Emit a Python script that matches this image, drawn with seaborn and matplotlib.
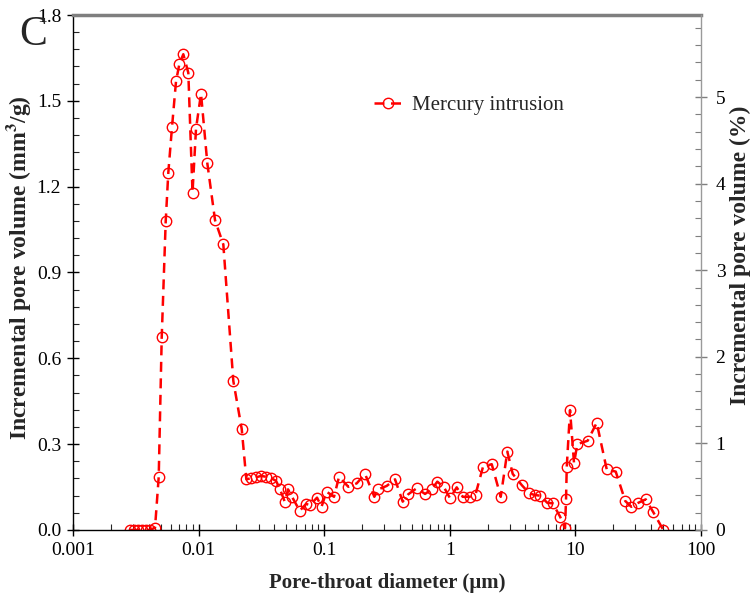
import numpy as np
import pandas as pd
import matplotlib
matplotlib.use("Agg")
import matplotlib.pyplot as plt
from matplotlib.ticker import MultipleLocator, LogLocator, NullFormatter, FixedLocator, FixedFormatter
import seaborn as sns

# Pore-throat diameter (µm) and incremental pore volume (mm3/g)
diameter = [
    0.002844, 0.003061, 0.003293, 0.003543, 0.003813, 0.004103, 0.004497,
    0.004812, 0.005084, 0.005471, 0.005737, 0.006139, 0.006607, 0.007022,
    0.007554, 0.008279, 0.008941, 0.009535, 0.010449, 0.011729, 0.013509,
    0.015729, 0.018892, 0.022039,
    0.02398, 0.02614, 0.02864, 0.03139, 0.03441, 0.03771, 0.04133, 0.04447,
    0.04848, 0.05150, 0.05541, 0.06381, 0.07163, 0.07709, 0.08764, 0.09518,
    0.1043, 0.1197, 0.1312, 0.1556, 0.1815, 0.2113, 0.2506, 0.2696, 0.3145,
    0.3662, 0.4217, 0.4674, 0.5451, 0.6346, 0.7177, 0.7954, 0.8991, 1.0037,
    1.1346, 1.2667, 1.4353, 1.602, 1.838, 2.156, 2.543, 2.870, 3.168, 3.737,
    4.296, 4.768, 5.226, 5.974, 6.597, 7.542, 8.264, 8.42, 8.53, 9.06, 9.75,
    10.35, 12.53, 14.78, 17.75, 20.94, 24.96, 27.87, 31.68, 36.29, 41.72,
    50.11,
]
volume = [
    0.0, 0.0, 0.0, 0.0, 0.0, 0.0, 0.008,
    0.186, 0.673, 1.080, 1.249, 1.408, 1.568, 1.628,
    1.663, 1.598, 1.179, 1.403, 1.525, 1.282, 1.083,
    0.998, 0.521, 0.353,
    0.177, 0.181, 0.184, 0.189, 0.186, 0.181, 0.172, 0.142,
    0.099, 0.142, 0.116, 0.067, 0.091, 0.087, 0.113, 0.081,
    0.134, 0.116, 0.186, 0.151, 0.163, 0.196, 0.116, 0.142, 0.154,
    0.177, 0.099, 0.125, 0.146, 0.126, 0.142, 0.169, 0.149, 0.111,
    0.149, 0.116, 0.116, 0.124, 0.221, 0.230, 0.116, 0.274, 0.196, 0.157,
    0.128, 0.122, 0.120, 0.095, 0.093, 0.047, 0.006, 0.107, 0.219, 0.419, 0.233,
    0.300, 0.312, 0.375, 0.212, 0.204, 0.101, 0.081, 0.095, 0.107, 0.062,
    0.0,
]

left_ticks = [0.0, 0.3, 0.6, 0.9, 1.2, 1.5, 1.8]
right_ticks = [0, 1, 2, 3, 4, 5]
x_ticks = [0.001, 0.01, 0.1, 1, 10, 100]
x_labels = ["0.001", "0.01", "0.1", "1", "10", "100"]

df = pd.DataFrame({"d": diameter, "v": volume})

sns.set_style("ticks")
plt.rcParams["font.family"] = ["Liberation Serif", "DejaVu Serif"]
plt.rcParams["mathtext.fontset"] = "stix"

fig = plt.figure(figsize=(7.52, 6.0), dpi=100)
ax = fig.add_axes([0.0971, 0.1167, 0.8351, 0.8583])

sns.lineplot(data=df, x="d", y="v", ax=ax, color="#ff0000",
             linestyle=(0, (4.0, 2.6)), linewidth=1.8,
             marker="o", markersize=7.5, markerfacecolor="none",
             markeredgecolor="#ff0000", markeredgewidth=1.0,
             label="Mercury intrusion", sort=False)

ax.set_xscale("log")
ax.set_xlim(0.001, 100)
ax.set_ylim(0, 1.8)
ax.xaxis.set_major_locator(FixedLocator(x_ticks))
ax.xaxis.set_major_formatter(FixedFormatter(x_labels))
ax.xaxis.set_minor_locator(LogLocator(base=10, subs=np.arange(2, 10)))
ax.xaxis.set_minor_formatter(NullFormatter())
ax.yaxis.set_major_locator(FixedLocator(left_ticks))
ax.set_yticklabels([f"{t:.1f}" for t in left_ticks])
ax.yaxis.set_minor_locator(MultipleLocator(0.06))

ax.tick_params(axis="both", which="major", direction="inout", length=9,
               width=1.0, labelsize=14, colors="black", pad=4)
ax.tick_params(axis="both", which="minor", direction="in", length=4, width=0.8)

ax.set_xlabel("Pore-throat diameter (µm)", fontsize=15, fontweight="bold", labelpad=10)
ax.set_ylabel(r"Incremental pore volume (mm$^{\mathbf{3}}$/g)", fontsize=17,
              fontweight="bold")
ax.yaxis.set_label_coords(-0.064, 0.509)

for side in ("left", "bottom"):
    ax.spines[side].set_color("black")
    ax.spines[side].set_linewidth(1.0)
ax.spines["top"].set_visible(True)
ax.spines["top"].set_color("#7f7f7f")
ax.spines["top"].set_linewidth(2.5)
ax.spines["right"].set_visible(False)

leg = ax.legend(loc="upper left", bbox_to_anchor=(0.45, 0.88), frameon=False,
                fontsize=15, handlelength=1.3, handletextpad=0.5)

# secondary axis in percent
ax2 = ax.twinx()
ax2.set_ylim(0, 5.947)
ax2.yaxis.set_major_locator(FixedLocator(right_ticks))
ax2.set_yticklabels([str(t) for t in right_ticks])
ax2.yaxis.set_minor_locator(MultipleLocator(0.2))
ax2.tick_params(axis="y", which="major", direction="inout", length=9, width=1.0,
                labelsize=14, color="#7f7f7f", labelcolor="black", pad=6)
ax2.tick_params(axis="y", which="minor", direction="in", length=4, width=0.8,
                color="#7f7f7f")
for side in ("left", "bottom", "top"):
    ax2.spines[side].set_visible(False)
ax2.spines["right"].set_visible(True)
ax2.spines["right"].set_color("#9a9a9a")
ax2.spines["right"].set_linewidth(1.0)
ax2.set_ylabel("Incremental pore volume (%)", fontsize=17, fontweight="bold")
ax2.yaxis.set_label_coords(1.046, 0.534)

fig.text(0.026, 0.925, "C", fontsize=30, family=["Liberation Serif", "DejaVu Serif"])

fig.savefig("out.png", dpi=100)
